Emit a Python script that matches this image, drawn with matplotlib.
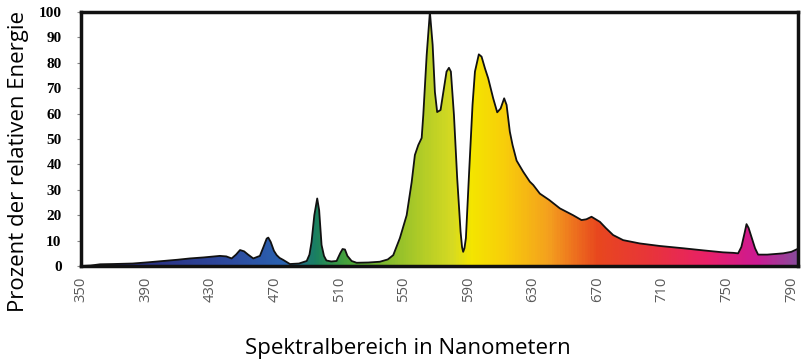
import numpy as np
import matplotlib
matplotlib.use("Agg")
from matplotlib import pyplot as plt
from matplotlib.colors import LinearSegmentedColormap
from matplotlib.patches import Polygon

# spectrum (nm, relative energy %)
wavelength = [350, 356, 361.8, 370, 382, 392, 401, 410, 417.5, 426, 436, 440, 443.3, 446,
              448.5, 451, 453.5, 456.7, 460.8, 463, 465, 466, 467.5, 469.5, 471.2, 473, 475.3,
              479.4, 485, 489.8, 491.5, 492.8, 494.5, 496.3, 497.5, 499, 500.5, 502, 505,
              508.3, 510.5, 512, 513.5, 515, 517.6, 520.7, 528, 535.1, 540, 543.4, 547.5,
              551.7, 554.8, 556.8, 558.9, 561, 562, 564.1, 566.1, 567.8, 569.2, 570.6, 572.7,
              573.5, 576.4, 577.9, 579.1, 581, 583, 585.1, 586, 586.7, 587.5, 588.4, 590.4,
              592.5, 594, 596.4, 598.1, 600.2, 602.2, 605.3, 607.8, 609.9, 612.1, 613.6, 615.6,
              617.3, 619.8, 623.9, 628, 630.1, 634.2, 640, 646.6, 654.8, 660, 663, 666.2,
              671.4, 675, 679.6, 685.8, 696.1, 708.5, 723, 735, 747.7, 754, 757, 759, 761,
              762.2, 763.5, 765.5, 767.5, 769.4, 775, 784.9, 790, 794]
energy = [0.0, 0.2, 0.7, 0.8, 1.0, 1.5, 2.0, 2.5, 3.0, 3.4, 4.0, 3.8, 3.0, 4.5,
          6.3, 5.8, 4.5, 3.0, 4.0, 7.5, 10.8, 11.2, 9.5, 6.0, 4.3, 3.2, 2.4,
          0.8, 1.0, 2.0, 4.5, 9.5, 20.0, 26.6, 22.0, 8.3, 4.0, 2.2, 1.8,
          2.0, 5.0, 6.7, 6.5, 4.0, 2.0, 1.3, 1.4, 1.7, 2.6, 4.3, 11.0,
          20.0, 33.0, 43.7, 47.6, 50.4, 59.4, 83.0, 100.0, 87.0, 68.5, 60.6, 61.4,
          64.7, 76.5, 78.0, 76.5, 59.4, 34.6, 13.5, 7.5, 5.6, 7.0, 11.0, 37.0,
          63.4, 76.5, 83.3, 82.4, 77.8, 73.9, 66.0, 60.5, 62.0, 66.0, 63.4, 52.9,
          47.6, 41.5, 37.1, 33.2, 31.9, 28.5, 26.0, 22.7, 20.0, 18.1, 18.4, 19.4,
          17.4, 15.0, 12.2, 10.2, 8.9, 7.9, 7.0, 6.2, 5.4, 5.2, 5.0, 7.5, 13.0,
          16.5, 15.0, 11.0, 7.0, 4.5, 4.5, 5.0, 5.6, 6.8]

color_nm = [350, 400, 440, 475, 495, 515, 550, 580, 592, 612, 640, 670, 705, 740, 770, 794]
color_hex = ["#2a2a78", "#2b3588", "#2e4a9e", "#2a62b0", "#1a8060", "#48a43a", "#9cc42a",
             "#d6da22", "#f4e600", "#f8cf0a", "#f4a01e", "#e8481e", "#e8343c", "#e8206a",
             "#cc1a92", "#8c4a9c"]

xticks = list(range(350, 791, 40))
yticks = list(range(0, 101, 10))

fig = plt.figure(figsize=(8.1, 3.61), dpi=100)
ax = fig.add_axes([0.1, 0.263, 0.885, 0.704])
x0, x1 = color_nm[0], color_nm[-1]
ax.set_xlim(x0, x1)
ax.set_ylim(0, 100)

cmap = LinearSegmentedColormap.from_list(
    "spec", [((n - x0) / (x1 - x0), c) for n, c in zip(color_nm, color_hex)])
grad = np.linspace(0, 1, 600).reshape(1, -1)
im = ax.imshow(grad, cmap=cmap, aspect="auto", extent=[x0, x1, 0, 100],
               origin="lower", zorder=1)
verts = [(wavelength[0], 0)] + list(zip(wavelength, energy)) + [(wavelength[-1], 0)]
clip = Polygon(verts, closed=True, transform=ax.transData, facecolor="none", edgecolor="none")
ax.add_patch(clip)
im.set_clip_path(clip)
ax.plot(wavelength, energy, color="#111111", linewidth=1.3, zorder=3,
        solid_joinstyle="round")

for s in ax.spines.values():
    s.set_linewidth(2.5)
    s.set_color("#111111")
    s.set_zorder(4)

ax.set_xticks(xticks)
ax.set_yticks(yticks)
ax.tick_params(axis="x", length=0, pad=7.5)
ax.tick_params(axis="y", length=3, width=0.8, color="#888888", pad=11)
for lab in ax.get_yticklabels():
    lab.set_fontfamily("Liberation Serif")
    lab.set_fontweight("bold")
    lab.set_fontsize(11)
for lab in ax.get_xticklabels():
    lab.set_fontfamily("Open Sans")
    lab.set_fontsize(10.7)
    lab.set_color("#5a5a5a")
    lab.set_rotation(90)

ax.set_xlabel("Spektralbereich in Nanometern", family="Open Sans", fontsize=16)
ax.xaxis.label.set_verticalalignment("baseline")
ax.xaxis.set_label_coords(0.456, -0.346)
ax.set_ylabel("Prozent der relativen Energie", family="Open Sans", fontsize=16)
ax.yaxis.label.set_verticalalignment("baseline")
ax.yaxis.set_label_coords(-0.080, 0.413)

fig.savefig("out.png", dpi=100)
